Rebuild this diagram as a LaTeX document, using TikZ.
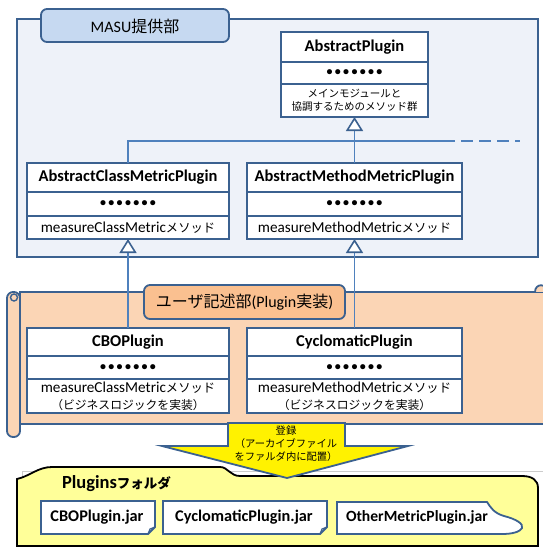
\documentclass[tikz,border=0pt]{standalone}
\usepackage{fontspec}
\setmainfont{Carlito}
\newfontfamily\jp{Noto Sans CJK JP}
\usetikzlibrary{arrows.meta}
\definecolor{dkb}{HTML}{3B6190}
\definecolor{lnb}{HTML}{4F81BD}
\definecolor{masubg}{HTML}{EEF2F9}
\definecolor{masutab}{HTML}{C6D9F1}
\definecolor{peach}{HTML}{FBD5B5}
\definecolor{peachtab}{HTML}{FAC090}
\definecolor{folderbg}{HTML}{FFFF99}
\newcommand\J[1]{{\jp #1}}
\newcommand\Js[2]{{\jp\fontsize{#1}{#1}\selectfont #2}}
\newcommand\dd{•\hspace{2.3pt}}
\newcommand\dotrow{{\fontsize{12}{14}\selectfont\bfseries\dd\dd\dd\dd\dd\dd•}}
\begin{document}
\begin{tikzpicture}[x=1pt,y=-1pt,
  box/.style={draw=dkb, line width=1.8pt, fill=white, inner sep=0pt, outer sep=0pt},
  ctitle/.style={box, font=\fontsize{16.5}{18}\selectfont\bfseries},
  cdots/.style={box},
  cmeth/.style={box, font=\fontsize{15.2}{17}\selectfont, align=center},
  frame/.style={draw=dkb, line width=1.8pt},
  conn/.style={draw=lnb, line width=1.5pt},
  inh/.style={-{Triangle[width=17pt,length=14pt,fill=white,color=dkb,line width=1.6pt]}},
  jar/.style={draw=dkb, line width=1.8pt, fill=white},
  jartext/.style={font=\fontsize{16.3}{18}\selectfont\bfseries, inner sep=0pt}
]
\useasboundingbox (0,0) rectangle (543,547);
% MASU section
\draw[frame, fill=masubg] (17,19) rectangle (538,257);
\draw[frame, fill=masutab, rounded corners=6] (41,9) rectangle (229,42);
\node[font=\fontsize{16}{18}\selectfont] (masu) at (135,26) {MASU\J{提供部}};
% scroll (user section)
\draw[frame, fill=peach] (20,292) rectangle (560,424);
\draw[frame, fill=peach, rounded corners=6] (7,292) rectangle (20,437);
\draw[dkb, line width=1.4pt, fill=peach] (14,297.5) circle[radius=3.5];
\draw[frame, fill=peach] (535,292) .. controls (535,283) and (547,283) .. (547,292);
\draw[frame, fill=peachtab, rounded corners=6] (144,285) rectangle (345,319);
\node[font=\fontsize{16}{18}\selectfont] (user) at (244.5,302) {\J{ユーザ記述部}(Plugin\J{実装})};
% AbstractPlugin
\node[ctitle, minimum width=147pt, minimum height=30pt] (ap) at (354.5,47) {AbstractPlugin};
\node[cdots, minimum width=147pt, minimum height=22pt] (apd) at (354.5,73) {\dotrow};
\node[box, minimum width=147pt, minimum height=33pt, align=center, font=\fontsize{10.5}{13}\selectfont] (apm) at (354.5,100.5) {\J{メインモジュールと}\\\J{協調するためのメソッド群}};
% AbstractClassMetricPlugin
\node[ctitle, minimum width=202pt, minimum height=29pt] (acmp) at (128,177.5) {AbstractClassMetricPlugin};
\node[cdots, minimum width=202pt, minimum height=24pt] (acmpd) at (128,204) {\dotrow};
\node[cmeth, minimum width=202pt, minimum height=23pt] (acmpm) at (128,227.5) {measureClassMetric\Js{12.3}{メソッド}};
% AbstractMethodMetricPlugin
\node[ctitle, minimum width=215pt, minimum height=29pt] (ammp) at (354.5,177.5) {AbstractMethodMetricPlugin};
\node[cdots, minimum width=215pt, minimum height=24pt] (ammpd) at (354.5,204) {\dotrow};
\node[cmeth, minimum width=215pt, minimum height=23pt] (ammpm) at (354.5,227.5) {measureMethodMetric\Js{12.3}{メソッド}};
% CBOPlugin
\node[ctitle, minimum width=202pt, minimum height=28pt] (cbo) at (128,342) {CBOPlugin};
\node[cdots, minimum width=202pt, minimum height=23pt] (cbod) at (128,367.5) {\dotrow};
\node[cmeth, minimum width=202pt, minimum height=34pt] (cbom) at (128,396) {measureClassMetric\Js{12.3}{メソッド}\\\Js{11.8}{（ビジネスロジックを実装）}};
% CyclomaticPlugin
\node[ctitle, minimum width=215pt, minimum height=28pt] (cyc) at (354.5,342) {CyclomaticPlugin};
\node[cdots, minimum width=215pt, minimum height=23pt] (cycd) at (354.5,367.5) {\dotrow};
\node[cmeth, minimum width=215pt, minimum height=34pt] (cycm) at (354.5,396) {measureMethodMetric\Js{12.3}{メソッド}\\\Js{11.8}{（ビジネスロジックを実装）}};
% connectors
\coordinate (bar) at (354.5,141);
\coordinate (barsolid) at (443,141);
\coordinate (barend) at (520,141);
\draw[conn] (acmp.north) |- (bar);
\draw[conn, inh] (ammp.north) -- (apm.south);
\draw[conn] (bar) -- (barsolid);
\draw[conn, dash pattern=on 12pt off 6pt] (barsolid) -- (barend);
\draw[conn, inh] (cbo.north) -- (acmpm.south);
\draw[conn, inh] (cyc.north) -- (ammpm.south);
% folder
\draw[gray!40, line width=0.8pt] (22,471) rectangle (600,600);
\draw[black, line width=1.8pt, fill=folderbg] (17,479) .. controls (30,476) and (38,467) .. (52,467) -- (220,467) .. controls (228,467) and (230,476) .. (240,476) -- (522,476) .. controls (532,476) and (538,480) .. (538,488) -- (538,546) -- (17,546) -- cycle;
\node[font=\fontsize{18.5}{20}\selectfont\bfseries, inner sep=0pt] (pf) at (116.5,484) {Plugins\Js{13.5}{\bfseries フォルダ}};
% jars
\draw[jar] (41,501) -- (155,501) -- (155,527) -- (148,534) -- (41,534) -- cycle;
\draw[dkb, line width=1.2pt] (155,527) -- (150,529) -- (148,534);
\node[jartext] (j1) at (97,517.5) {CBOPlugin.jar};
\draw[jar] (163,501) -- (327,501) -- (327,527) -- (320,534) -- (163,534) -- cycle;
\draw[dkb, line width=1.2pt] (327,527) -- (322,529) -- (320,534);
\node[jartext] (j2) at (244,517.5) {CyclomaticPlugin.jar};
\draw[jar] (337,502) -- (487,502) .. controls (491,508) and (494,513) .. (504,516) .. controls (516,519) and (524,524) .. (522,528) .. controls (520,532) and (512,534) .. (502,534) -- (337,534) -- cycle;
\node[jartext, font=\fontsize{15.6}{18}\selectfont\bfseries] (j3) at (417,517.5) {OtherMetricPlugin.jar};
% registration arrow
\draw[frame, fill=yellow] (228,423) -- (345,423) -- (345,446) -- (408,446) -- (287,478) -- (162,446) -- (228,446) -- cycle;
\node[align=center, font=\fontsize{10.3}{13}\selectfont, inner sep=0pt] (reg) at (286,444) {\J{登録}\\\J{（アーカイブファイル}\\\J{をファルダ内に配置）}};
\end{tikzpicture}
\end{document}
